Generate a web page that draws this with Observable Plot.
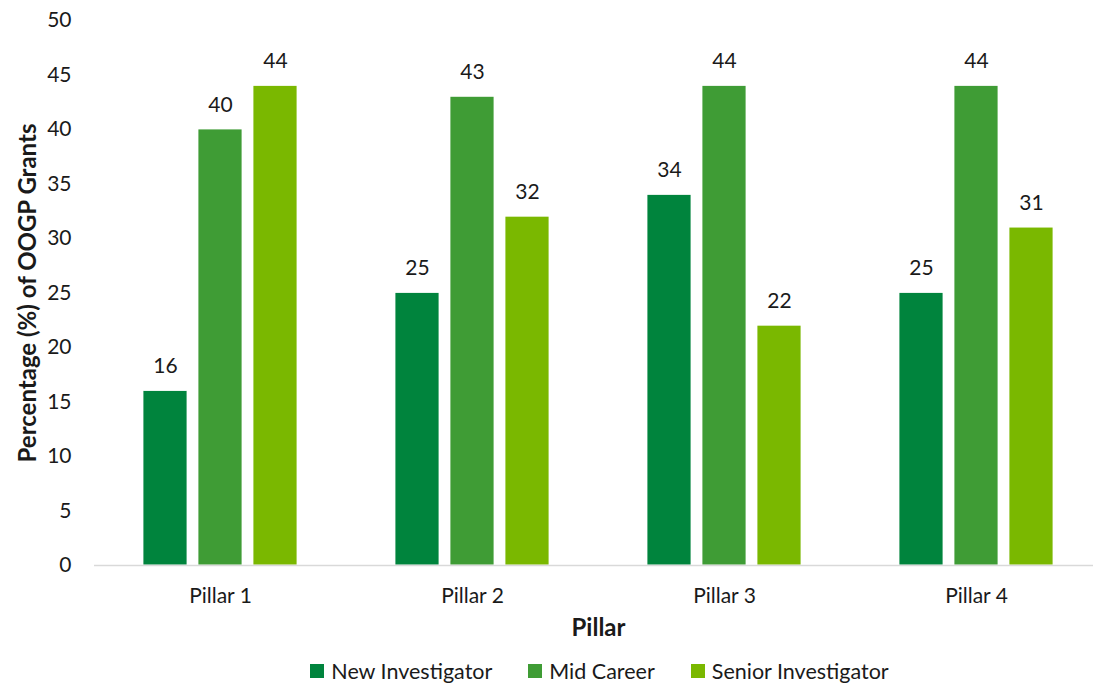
<!DOCTYPE html>
<html>
<head>
<meta charset="utf-8">
<script src="https://cdn.jsdelivr.net/npm/d3@7"></script>
<script src="https://cdn.jsdelivr.net/npm/@observablehq/plot@0.6"></script>
<style>
  html, body { margin: 0; padding: 0; background: #fff; }
  body { width: 1093px; height: 687px; overflow: hidden; font-family: Lato, "Open Sans", sans-serif; }
  #legend { display: flex; justify-content: center; align-items: center; gap: 36px; margin-top: 8px; font-size: 21.5px; line-height: 26px; color: #1a1a1a; padding-left: 106px; }
  #legend .item { display: flex; align-items: center; gap: 7px; }
  #legend .sw { width: 14px; height: 14px; display: inline-block; }
</style>
</head>
<body>
<div id="chart"></div>
<div id="legend"></div>
<script>
const pillars = ["Pillar 1", "Pillar 2", "Pillar 3", "Pillar 4"];
const series = ["New Investigator", "Mid Career", "Senior Investigator"];
const colors = ["#00843D", "#3F9C35", "#7AB800"];
const newInvestigator = [16, 25, 34, 25];
const midCareer = [40, 43, 44, 44];
const seniorInvestigator = [44, 32, 22, 31];
const yTicks = [0, 5, 10, 15, 20, 25, 30, 35, 40, 45, 50];

const valuesBySeries = [newInvestigator, midCareer, seniorInvestigator];
const rows = [];
pillars.forEach((p, i) => {
  series.forEach((s, j) => rows.push({pillar: p, series: s, value: valuesBySeries[j][i]}));
});

const chart = Plot.plot({
  width: 1093,
  height: 650,
  marginLeft: 94,
  marginRight: -9,
  marginTop: 20,
  marginBottom: 85,
  style: {fontFamily: "Lato, 'Open Sans', sans-serif", fontSize: "21px", color: "#1a1a1a", background: "#fff"},
  fx: {domain: pillars, paddingInner: 0.38, paddingOuter: 0.19, label: null},
  x: {domain: series, paddingInner: 0.2, paddingOuter: 0, axis: null},
  y: {domain: [0, 50], ticks: yTicks, label: null},
  color: {domain: series, range: colors},
  marks: [
    // y axis sits left of the first pillar group, so padding reaches back to the margin
    Plot.axisY({ticks: yTicks, tickSize: 0, tickPadding: 71, fontSize: 21, label: null}),
    Plot.axisFx({anchor: "bottom", tickSize: 0, tickPadding: 23, fontSize: 21, label: null}),
    Plot.barY(rows, {fx: "pillar", x: "series", y: "value", fill: "series", stroke: "white", strokeWidth: 0.8}),
    // baseline: each group's rule is widened by half the gap so they join up
    Plot.ruleY([0], {stroke: "#d9d9d9", strokeWidth: 1.5, insetLeft: -48, insetRight: -48}),
    Plot.text(rows, {fx: "pillar", x: "series", y: "value", text: d => String(d.value), dy: -18, lineAnchor: "bottom", fontSize: 21, fill: "#1a1a1a"}),
    Plot.text(["Pillar"], {frameAnchor: "bottom", dy: 63, lineAnchor: "middle", fontSize: 24, fontWeight: "bold", fill: "#1a1a1a", facet: "super"}),
    Plot.text(["Percentage (%) of OOGP Grants"], {frameAnchor: "left", dx: -114, rotate: -90, textAnchor: "middle", lineAnchor: "middle", fontSize: 24, fontWeight: "bold", fill: "#1a1a1a", facet: "super"})
  ]
});
document.getElementById("chart").appendChild(chart);

const legend = d3.select("#legend");
series.forEach((s, i) => {
  const item = legend.append("div").attr("class", "item");
  item.append("span").attr("class", "sw").style("background", colors[i]);
  item.append("span").text(s);
});
</script>
</body>
</html>
